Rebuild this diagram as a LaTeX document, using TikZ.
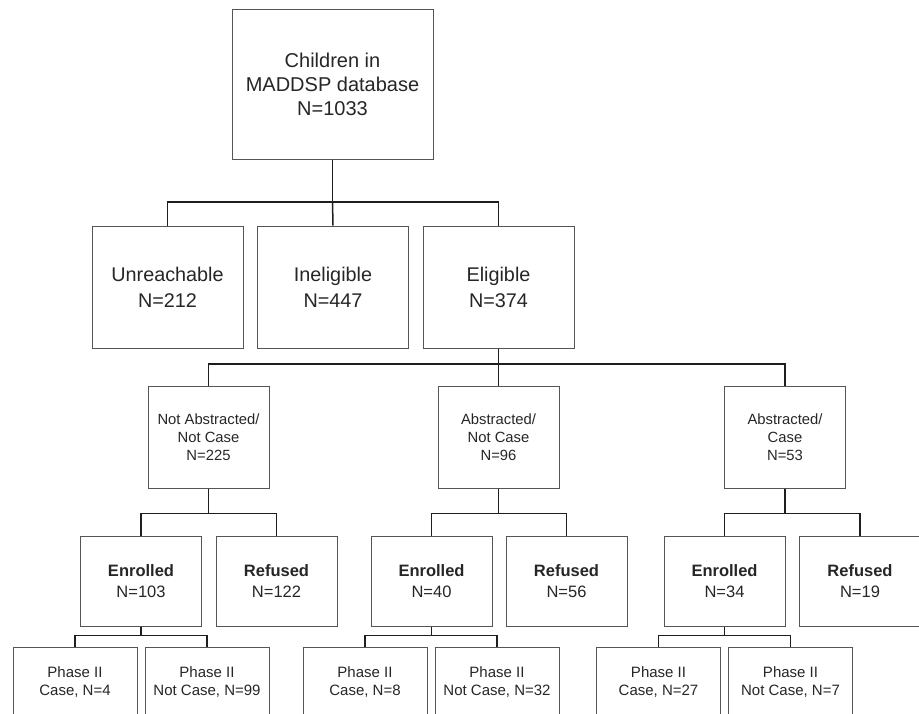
\documentclass[tikz,border=0pt]{standalone}
\usepackage{fontspec}
\setmainfont{Liberation Sans}
\usetikzlibrary{positioning}
\definecolor{frame}{HTML}{555555}
\definecolor{link}{HTML}{1E1E1E}
\tikzset{
  box/.style={draw=frame,line width=0.5pt,rectangle,inner sep=0pt,align=center,text=black!85},
  rootbox/.style={box,minimum width=100.5pt,minimum height=75pt,font=\fontsize{10}{12}\selectfont},
  splitbox/.style={box,minimum width=75.5pt,minimum height=61pt,font=\fontsize{9.9}{13}\selectfont},
  groupbox/.style={box,minimum width=60.5pt,minimum height=51pt,font=\fontsize{7.4}{8.85}\selectfont},
  statusbox/.style={box,minimum width=60.5pt,minimum height=45pt,font=\fontsize{8.25}{10.2}\selectfont},
  phasebox/.style={box,anchor=north,minimum width=62pt,minimum height=35pt,font=\fontsize{7.5}{9}\selectfont},
  conn/.style={draw=link,line width=0.75pt},
}

\begin{document}
\begin{tikzpicture}[x=0.5pt,y=-0.5pt]
  \useasboundingbox (0,0) rectangle (919,713);
  \clip (0,0) rectangle (919,713);

  % database
  \node[rootbox] (root) at (332.5,84) {Children in\\MADDSP database\\N=1033};

  % contact status
  \node[splitbox] (unreach) at (167.5,287) {Unreachable\\N=212};
  \node[splitbox] (inelig) at (333,287) {Ineligible\\N=447};
  \node[splitbox] (elig) at (498.5,287) {Eligible\\N=374};

  % abstraction groups
  \node[groupbox] (nacase) at (208.5,437) {Not Abstracted/\\Not Case\\N=225};
  \node[groupbox] (anot) at (498.5,437) {Abstracted/\\Not Case\\N=96};
  \node[groupbox] (acase) at (785,437) {Abstracted/\\Case\\N=53};

  % enrollment
  \node[statusbox] (enrA) at (141,581) {\textbf{Enrolled}\\N=103};
  \node[statusbox] (refA) at (276.5,581) {\textbf{Refused}\\N=122};
  \node[statusbox] (enrB) at (431.5,581) {\textbf{Enrolled}\\N=40};
  \node[statusbox] (refB) at (566.5,581) {\textbf{Refused}\\N=56};
  \node[statusbox] (enrC) at (724.5,581) {\textbf{Enrolled}\\N=34};
  \node[statusbox] (refC) at (860,581) {\textbf{Refused}\\N=19};

  % phase II
  \node[phasebox] (caseA) at (75,647) {Phase II\\Case, N=4};
  \node[phasebox] (notA) at (207,647) {Phase II\\Not Case, N=99};
  \node[phasebox] (caseB) at (365,647) {Phase II\\Case, N=8};
  \node[phasebox] (notB) at (497,647) {Phase II\\Not Case, N=32};
  \node[phasebox] (caseC) at (658.5,647) {Phase II\\Case, N=27};
  \node[phasebox] (notC) at (790.5,647) {Phase II\\Not Case, N=7};

  % connectors
  \coordinate (bar1) at (332.5,202);
  \coordinate (bar2) at (498.5,364);
  \draw[conn] (root.south) -- (bar1);
  \draw[conn] (unreach.north) |- (bar1) -| (elig.north);
  \draw[conn] (bar1) -- (inelig.north);
  \draw[conn] (elig.south) -- (bar2);
  \draw[conn] (nacase.north) |- (bar2) -| (acase.north);
  \draw[conn] (bar2) -- (anot.north);
  \foreach \p/\l/\r in {nacase/enrA/refA,anot/enrB/refB,acase/enrC/refC}{
    \draw[conn] (\p.south) -- ++(0,25) -| (\l.north);
    \draw[conn] (\p.south) -- ++(0,25) -| (\r.north);
  }
  \foreach \p/\l/\r in {enrA/caseA/notA,enrB/caseB/notB,enrC/caseC/notC}{
    \draw[conn] (\p.south) -- ++(0,9) -| (\l.north);
    \draw[conn] (\p.south) -- ++(0,9) -| (\r.north);
  }
\end{tikzpicture}
\end{document}
